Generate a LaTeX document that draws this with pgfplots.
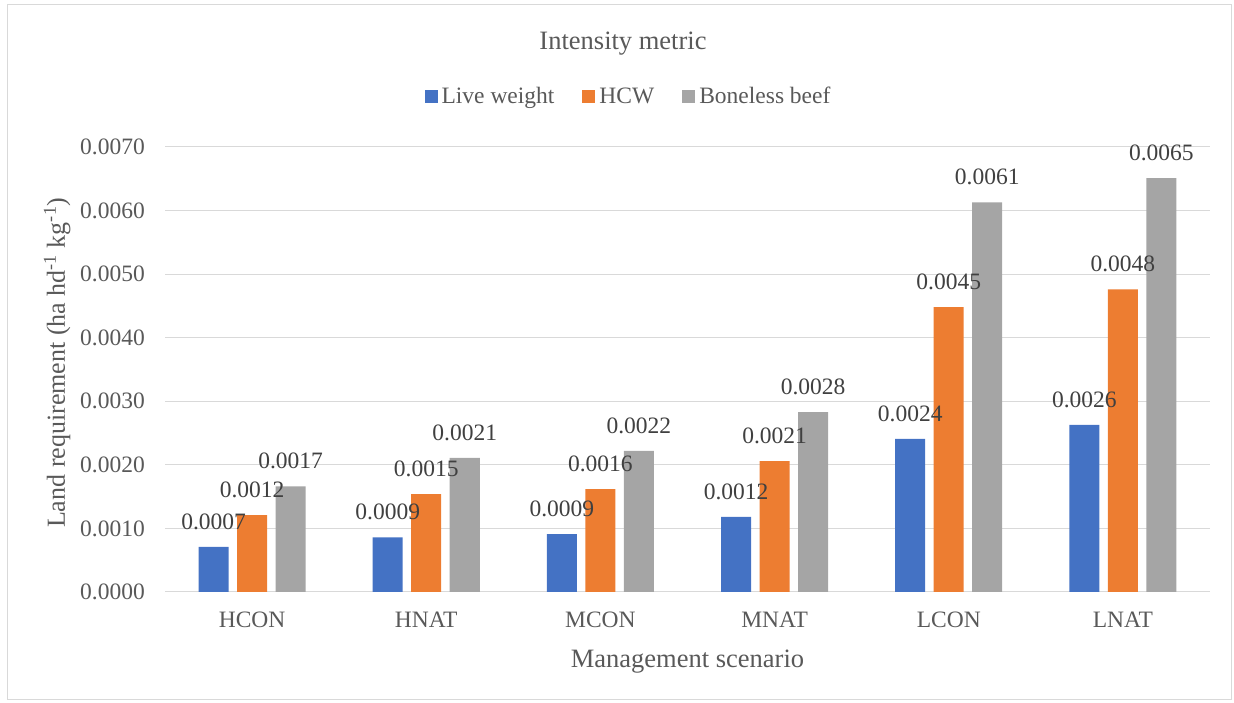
\documentclass[border=0pt]{standalone}
\usepackage{fontspec}
\setmainfont{Liberation Serif}
\usepackage{pgfplots}
\pgfplotsset{compat=1.18}
\definecolor{cblue}{HTML}{4472C4}
\definecolor{corange}{HTML}{ED7D31}
\definecolor{cgrey}{HTML}{A5A5A5}
\definecolor{gridc}{HTML}{D9D9D9}
\definecolor{txt}{HTML}{595959}
\definecolor{lbl}{HTML}{404040}
\pgfplotsset{sqleg/.style={legend image code/.code={\fill[##1,draw=none] (0pt,-6.5pt) rectangle (13pt,6.5pt);}}}
\begin{document}
\begin{tikzpicture}[x=1pt,y=1pt]
\useasboundingbox (0,0) rectangle (1234,703);
\draw[gridc, line width=1pt] (7.5,3.5) rectangle (1231.5,698);
\begin{axis}[
 at={(165pt,111pt)}, anchor=south west,
 scale only axis, width=1045pt, height=445pt,
 ybar=8.5pt, bar width=30pt,
 xmin=-0.5, xmax=5.5, ymin=0, ymax=0.007,
 clip=false,
 xtick={0,1,2,3,4,5}, xticklabels={HCON,HNAT,MCON,MNAT,LCON,LNAT},
 ytick={0,0.001,0.002,0.003,0.004,0.005,0.006,0.007},
 scaled y ticks=false,
 /pgf/number format/assume math mode=true,
 yticklabel={\pgfmathprintnumber[fixed,fixed zerofill,precision=4]{\tick}},
 major tick length=0pt,
 axis line style={draw=none},
 ymajorgrids, grid style={gridc, line width=1pt},
 tick label style={text=txt, font=\fontsize{23.5}{28}\selectfont},
 yticklabel style={anchor=east, inner sep=0pt, xshift=-20pt},
 xticklabel style={anchor=north, inner sep=0pt, yshift=-20pt},
 nodes near coords={\pgfmathprintnumber[fixed,fixed zerofill,precision=4]{\pgfplotspointmeta}},
 nodes near coords style={text=lbl, font=\fontsize{23.5}{28}\selectfont, anchor=south, inner sep=0pt, yshift=17pt},
 title={Intensity metric},
 title style={at={(axis description cs:0.4383,1.218)}, anchor=base, yshift=-6pt, inner sep=0pt, text=txt, font=\fontsize{26.5}{30}\selectfont},
 xlabel={Management scenario},
 xlabel style={at={(axis description cs:0.5,-0.1303)}, anchor=north, inner sep=0pt, text=txt, font=\fontsize{26.5}{30}\selectfont},
 ylabel={Land requirement (ha hd\textsuperscript{-1} kg\textsuperscript{-1})},
 ylabel style={at={(axis description cs:-0.0957,0.515)}, anchor=base, inner sep=0pt, text=txt, font=\fontsize{26}{30}\selectfont},
 legend columns=3,
 legend style={at={(axis description cs:0.4426,1.1139)}, anchor=center, draw=none, fill=none,
   font=\fontsize{23.5}{28}\selectfont, text=txt, inner sep=0pt,
   /tikz/every even column/.append style={column sep=28pt},
   /tikz/every odd column/.append style={column sep=4pt},
   nodes={inner sep=0pt, text height=17.6pt, text depth=3.6pt}},
]
\addplot[fill=cblue, draw=none, sqleg] coordinates {(0,0.00071) (1,0.00086) (2,0.00091) (3,0.00118) (4,0.00241) (5,0.00263)};
\addlegendentry{Live weight}
\addplot[fill=corange, draw=none, sqleg] coordinates {(0,0.00121) (1,0.00154) (2,0.00162) (3,0.00206) (4,0.00448) (5,0.00476)};
\addlegendentry{HCW}
\addplot[fill=cgrey, draw=none, sqleg] coordinates {(0,0.00166) (1,0.00211) (2,0.00222) (3,0.00283) (4,0.00613) (5,0.00651)};
\addlegendentry{Boneless beef}
\end{axis}
\end{tikzpicture}
\end{document}
